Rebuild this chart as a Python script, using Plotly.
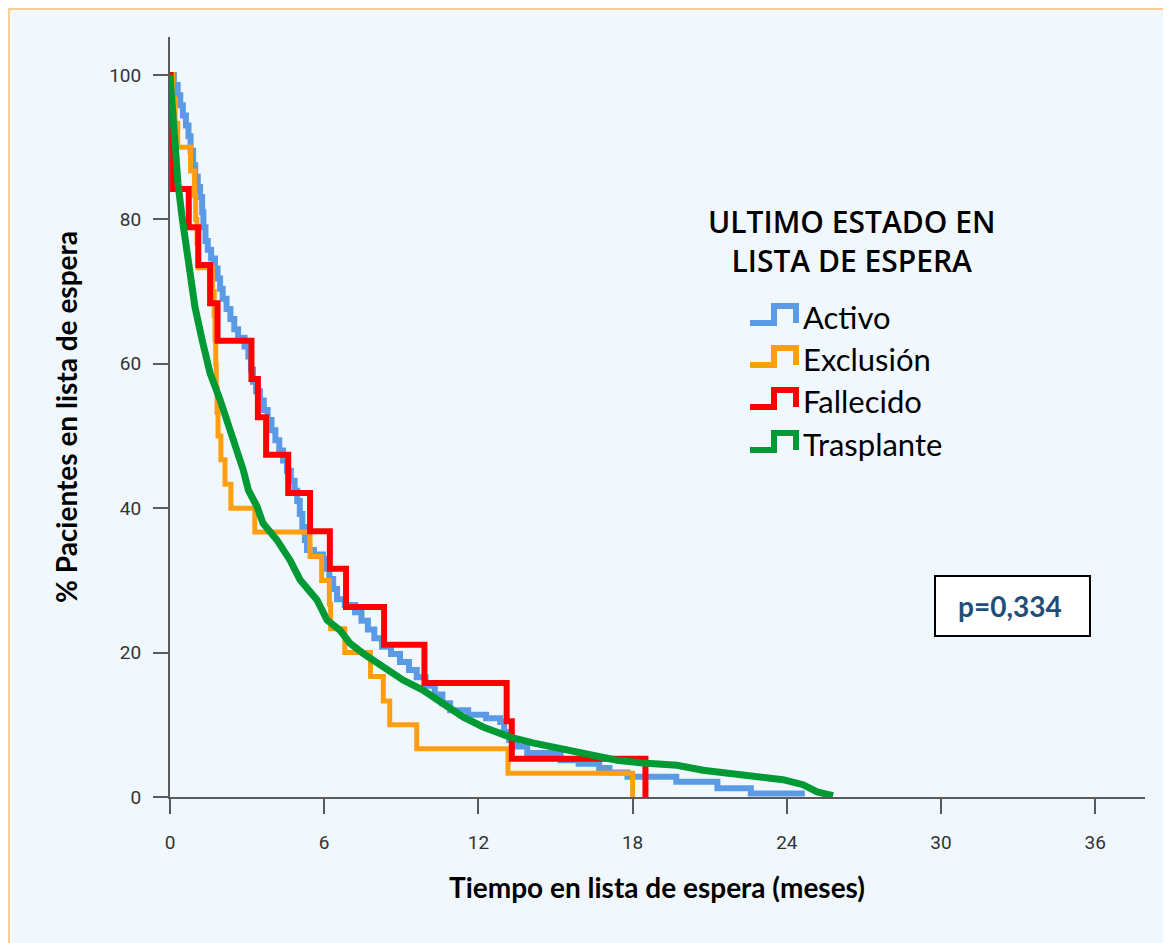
import plotly.graph_objects as go

# ---------------- data ----------------
series_names = ["Activo", "Exclusión", "Fallecido", "Trasplante"]

activo_t = [0, 0.15, 0.3, 0.4, 0.5, 0.62, 0.72, 0.8, 0.9, 0.98, 1.08, 1.17, 1.25, 1.3, 1.38,
            1.47, 1.6, 1.75, 1.85, 1.95, 2.05, 2.2, 2.35, 2.5, 2.65, 2.9, 3.05, 3.15, 3.23,
            3.35, 3.5, 3.65, 3.8, 3.95, 4.1, 4.25, 4.4, 4.55, 4.7, 4.85, 4.95, 5.05, 5.15,
            5.25, 5.33, 5.6, 5.95, 6.05, 6.2, 6.35, 6.5, 6.8, 7.2, 7.45, 7.7, 7.95, 8.25,
            8.6, 8.95, 9.3, 9.6, 9.95, 10.3, 10.6, 10.9, 11.6, 12.3, 12.85, 13.0, 13.2, 13.5,
            13.9, 15.2, 15.9, 16.7, 17.1, 17.8, 19.7, 21.3, 22.6, 24.7]
activo_s = [100, 98.6, 97.2, 95.8, 94.4, 93.0, 91.5, 89.5, 87.5, 85.9, 84.5, 83.1, 81.0, 78.9, 77.0,
            75.8, 74.6, 73.2, 71.8, 70.4, 69.0, 67.6, 66.2, 64.8, 63.6, 62.4, 61.0, 59.2, 57.5,
            56.2, 54.9, 53.6, 52.2, 50.8, 49.4, 48.0, 46.6, 45.2, 43.8, 42.4, 41.0, 39.2, 37.4,
            35.6, 34.2, 33.6, 33.0, 31.6, 30.2, 28.8, 27.4, 26.6, 25.6, 24.4, 23.2, 22.0, 20.8,
            19.8, 18.7, 17.6, 16.6, 15.4, 14.2, 13.0, 12.0, 11.4, 10.9, 10.4, 9.0, 7.9, 7.0,
            6.1, 5.1, 4.6, 4.0, 3.4, 2.8, 2.1, 1.2, 0.5, 0.5]

exclusion_t = [0, 0.1, 0.2, 0.3, 0.8, 0.95, 1.0, 1.05, 1.1, 1.65, 1.72, 1.75, 1.78, 1.8, 1.83,
               1.87, 1.98, 2.14, 2.37, 3.3, 5.45, 5.9, 6.2, 6.25, 6.8, 7.8, 8.3, 8.55, 9.6,
               13.15, 18.0]
exclusion_s = [100, 96.7, 93.3, 90, 86.7, 83.3, 80, 76.7, 73.3, 70, 66.7, 63.3, 60, 56.7, 53.3,
               50, 46.7, 43.3, 40, 36.7, 33.3, 30, 26.7, 23.3, 20, 16.7, 13.3, 10, 6.7,
               3.3, 0]

fallecido_t = [0, 0.02, 0.05, 0.12, 0.73, 1.1, 1.56, 1.85, 3.17, 3.42, 3.74, 4.6, 5.45, 6.22,
               6.85, 8.33, 9.9, 13.1, 13.3, 18.5]
fallecido_s = [100, 94.7, 89.5, 84.2, 78.9, 73.7, 68.4, 63.2, 57.9, 52.6, 47.4, 42.1, 36.8, 31.6,
               26.3, 21.1, 15.8, 10.5, 5.3, 0]

trasplante_t = [0, 0.12, 0.2, 0.31, 0.47, 0.62, 0.78, 0.97, 1.25, 1.56, 1.95, 2.33, 2.62, 2.85,
                3.05, 3.39, 3.62, 4.16, 4.67, 5.06, 5.72, 6.11, 6.61, 7.0, 7.51, 8.29, 9.07,
                9.84, 10.62, 11.4, 12.18, 12.84, 13.23, 14.12, 15.18, 16.34, 17.39, 18.4,
                19.73, 20.74, 21.67, 22.84, 23.85, 24.63, 25.18, 25.8]
trasplante_s = [100, 94.2, 89.6, 85.0, 80.3, 76.5, 72.6, 67.9, 63.3, 58.7, 55.0, 51.2, 48.1, 45.3,
                42.5, 40.2, 37.9, 35.6, 32.8, 30.1, 27.3, 24.5, 23.1, 21.3, 19.9, 18.0, 16.2,
                14.8, 13.0, 11.1, 9.7, 8.9, 8.3, 7.5, 6.8, 5.8, 5.1, 4.7,
                4.4, 3.7, 3.3, 3.0, 2.4, 1.7, 0.7, 0.2]

x_ticks = [0, 6, 12, 18, 24, 30, 36]
y_ticks = [0, 20, 40, 60, 80, 100]
p_value_text = "p=0,334"

# ---------------- styling ----------------
W, H = 1171, 943
OFF = 8                      # page offset of the figure (body margin)
PL, PT, PR, PB = 170, 37, 1145, 797   # plot area in page pixels
L, T = PL - OFF, PT - OFF
PW, PH = PR - PL, PB - PT
R, B = W - L - PW, H - T - PH
BG = "#F0F8FE"
colors = {"Activo": "#5B9BE6", "Exclusión": "#FF9E10", "Fallecido": "#FF0000", "Trasplante": "#009A35"}
widths = {"Activo": 6, "Exclusión": 5, "Fallecido": 6, "Trasplante": 7}


def px(xp):
    return (xp - PL) / PW


def py(yp):
    return (PB - yp) / PH


fig = go.Figure()
for name, t, s, shape in [("Activo", activo_t, activo_s, "hv"),
                          ("Exclusión", exclusion_t, exclusion_s, "hv"),
                          ("Fallecido", fallecido_t, fallecido_s, "hv"),
                          ("Trasplante", trasplante_t, trasplante_s, "linear")]:
    fig.add_trace(go.Scatter(x=t, y=s, mode="lines", name=name,
                             line=dict(color=colors[name], width=widths[name], shape=shape),
                             showlegend=False))

tickfont = dict(family="Liberation Sans Narrow, Roboto, Arial", size=19, color="#333333")
fig.update_xaxes(range=[0, PW / 25.7], tickvals=x_ticks, ticktext=[str(v) for v in x_ticks],
                 showgrid=False, zeroline=False, showline=True, linecolor="#5a5a5a", linewidth=2,
                 ticks="outside", ticklen=15, tickwidth=2, tickcolor="#5a5a5a",
                 tickfont=tickfont, ticklabelstandoff=12)
fig.update_yaxes(range=[0, PH / 7.22], tickvals=y_ticks, ticktext=[str(v) for v in y_ticks],
                 showgrid=False, zeroline=False, showline=True, linecolor="#5a5a5a", linewidth=2,
                 ticks="outside", ticklen=15, tickwidth=2, tickcolor="#5a5a5a",
                 tickfont=tickfont, ticklabelstandoff=8)

shapes = [
    # panel frame (top/left edges visible)
    dict(type="rect", xref="paper", yref="paper", x0=px(OFF + 1), x1=px(OFF + W + 20),
         y0=py(OFF + H + 20), y1=py(OFF + 1),
         fillcolor=BG, line=dict(color="#F9CF97", width=2), layer="below"),
    # p-value box
    dict(type="rect", xref="paper", yref="paper", x0=px(935), x1=px(1090), y0=py(636), y1=py(576),
         fillcolor="white", line=dict(color="black", width=2), layer="above"),
]

annotations = [
    dict(text="Tiempo en lista de espera (meses)", xref="paper", yref="paper",
         x=px(657), y=py(887), showarrow=False, xanchor="center", yanchor="middle",
         font=dict(family="Lato, Open Sans, sans-serif", size=28, color="black", weight="bold")),
    dict(text="% Pacientes en lista de espera", xref="paper", yref="paper",
         x=px(66), y=py(417), showarrow=False, textangle=-90, xanchor="center", yanchor="middle",
         font=dict(family="Lato, Open Sans, sans-serif", size=28, color="black", weight="bold")),
    dict(text="ULTIMO ESTADO EN<br>LISTA DE ESPERA", xref="paper", yref="paper",
         x=px(851), y=py(241), showarrow=False, xanchor="center", yanchor="middle", align="center",
         font=dict(family="Open Sans, Lato, sans-serif", size=30, color="black", weight=600)),
    dict(text=p_value_text, xref="paper", yref="paper", x=px(1010), y=py(606), showarrow=False,
         xanchor="center", yanchor="middle",
         font=dict(family="Lato, Open Sans, sans-serif", size=28, color="#1F4E79", weight="bold")),
]

# custom legend with step-shaped symbols
legend_rows = [317, 359, 401, 444]
for name, yc in zip(series_names, legend_rows):
    path = "M {a},{b} L {c},{b} L {c},{d} L {e},{d} L {e},{b}".format(
        a=px(750), b=py(yc + 6), c=px(774), d=py(yc - 11), e=px(796))
    shapes.append(dict(type="path", xref="paper", yref="paper", path=path,
                       line=dict(color=colors[name], width=6), layer="above"))
    annotations.append(dict(text=name, xref="paper", yref="paper", x=px(801), y=py(yc),
                            showarrow=False, xanchor="left", yanchor="middle",
                            font=dict(family="Lato, Open Sans, sans-serif", size=31, color="black")))

fig.update_layout(width=W, height=H, margin=dict(l=L, r=R, t=T, b=B),
                  paper_bgcolor=BG, plot_bgcolor="rgba(0,0,0,0)",
                  shapes=shapes, annotations=annotations, showlegend=False)

fig.write_html("out.html")
